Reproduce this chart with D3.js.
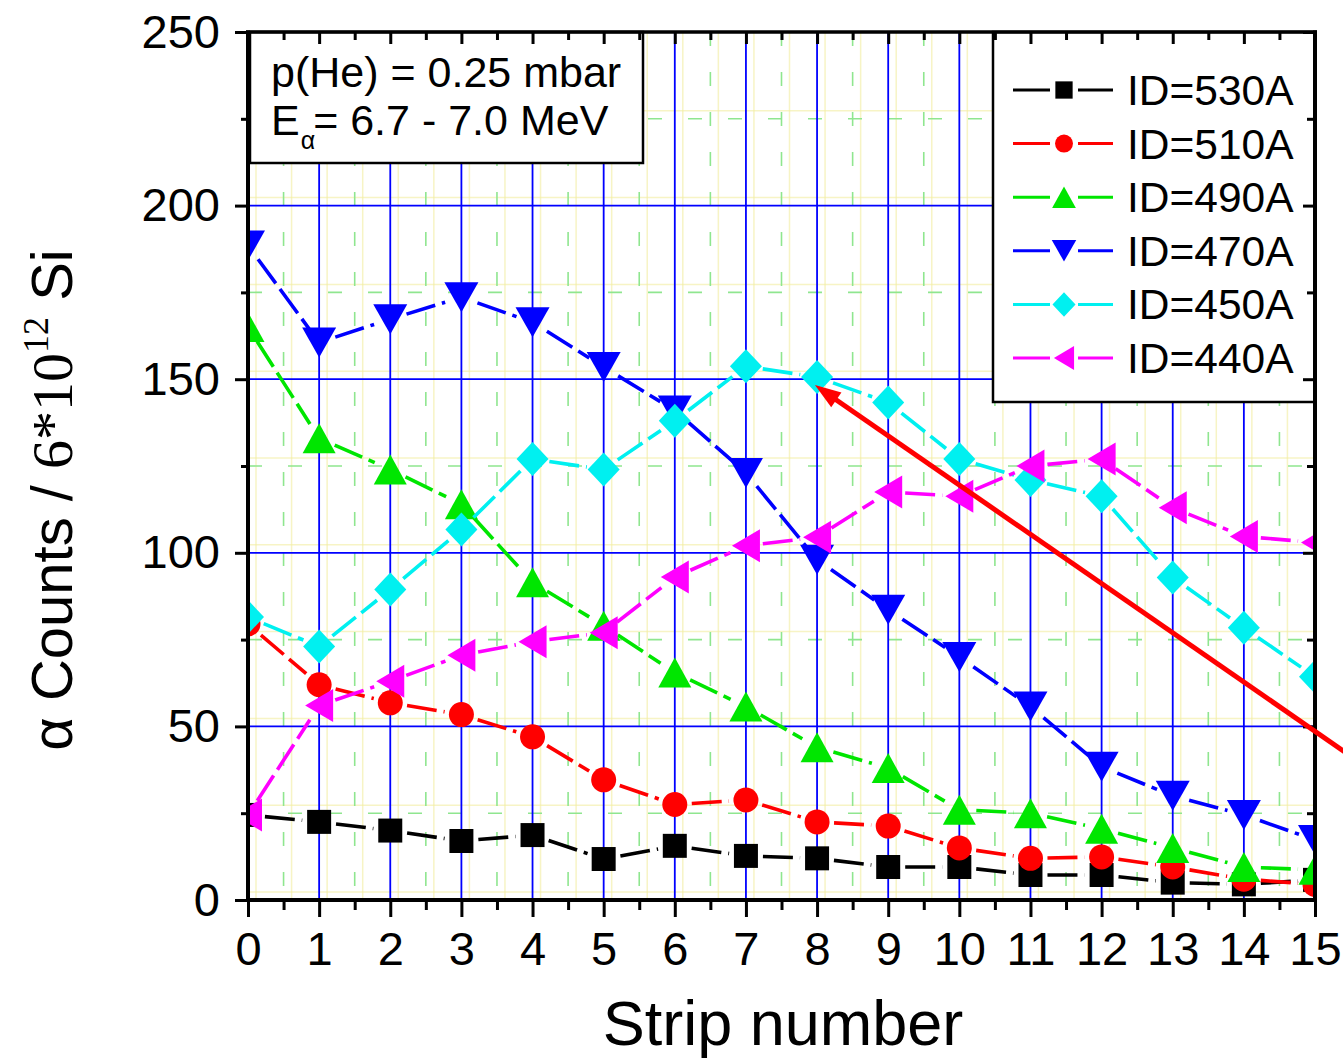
<!DOCTYPE html>
<html><head><meta charset="utf-8">
<script src="https://cdn.jsdelivr.net/npm/d3@7"></script>
<style>body{margin:0;background:#fff}svg{display:block}</style>
</head><body>
<svg id="chart" width="1343" height="1061"></svg>
<script>
// ---------- data ----------
const strips = [0,1,2,3,4,5,6,7,8,9,10,11,12,13,14,15];
const xTickValues = [0,1,2,3,4,5,6,7,8,9,10,11,12,13,14,15];
const xMinorValues = [0.5,1.5,2.5,3.5,4.5,5.5,6.5,7.5,8.5,9.5,10.5,11.5,12.5,13.5,14.5];
const yTickValues = [0,50,100,150,200,250];
const yMinorValues = [25,75,125,175,225];

const id530 = [24.5,22.5,20,17,18.7,11.8,15.6,12.7,12,9.5,9.5,7.2,7.2,5,4.5,5.8];
const id510 = [79.5,62,56.8,53.4,47,34.6,27.5,28.8,22.5,21.3,15,12,12.4,9.5,6,4.5];
const id490 = [165,133,124,114,91.5,79,65.5,55.7,44,38,26,25,20.5,15,9.5,8.7];
const id470 = [188.5,160.6,167.3,173.6,166.4,153.5,141,123,98,83.6,70,55.7,38.4,30,24.5,17.3];
const id450 = [81.5,73,89.4,106.7,127,124,138,153.7,150.6,143.3,127,121,116.3,92.9,78.4,64.3];
const id440 = [24.5,56,63,70.5,74.4,77,93,102,104.5,117.5,116.3,125,127,113,104.7,103];

const seriesNames = ["ID=530A","ID=510A","ID=490A","ID=470A","ID=450A","ID=440A"];
const seriesValues = [id530,id510,id490,id470,id450,id440];
const seriesColors = ["#000000","#ff0000","#00e600","#0000ff","#00f0f0","#ff00ff"];
const seriesSymbols = ["square","circle","triUp","triDown","diamond","triLeft"];

const annotationLine1 = "p(He) = 0.25 mbar";
const annotationLine2a = "E";
const annotationLine2sub = "α";
const annotationLine2b = "= 6.7 - 7.0 MeV";
const xTitle = "Strip number";
const arrowFrom = [15.5, 41.5];
const arrowTo = [7.97, 148.3];

// ---------- layout ----------
const W = 1343, H = 1061;
const L = 248, R = 1315, T = 32, B = 900;
const svg = d3.select("#chart");
const x = d3.scaleLinear().domain([0,15]).range([L,R]);
const y = d3.scaleLinear().domain([0,250]).range([B,T]);
const SANS = "'Liberation Sans', Arial, sans-serif";
const SERIF = "'Liberation Serif', 'Times New Roman', serif";

svg.append("rect").attr("width",W).attr("height",H).attr("fill","#fff");

svg.append("defs").append("clipPath").attr("id","plotclip")
  .append("rect").attr("x",L).attr("y",T).attr("width",R-L).attr("height",B-T);

const grid = svg.append("g").attr("clip-path","url(#plotclip)");

// faint yellow shadow lines
const allX = xTickValues.concat(xMinorValues);
const allY = yTickValues.concat(yMinorValues);
grid.selectAll("line.yx").data(allX).join("line")
  .attr("x1",d=>x(d)+8).attr("x2",d=>x(d)+8).attr("y1",T).attr("y2",B)
  .attr("stroke","#f3eea0").attr("stroke-width",1.5).attr("opacity",0.6);
grid.selectAll("line.yy").data(allY).join("line")
  .attr("y1",d=>y(d)-8).attr("y2",d=>y(d)-8).attr("x1",L).attr("x2",R)
  .attr("stroke","#f3eea0").attr("stroke-width",1.5).attr("opacity",0.6);

// minor green dashed grid
grid.selectAll("line.gx").data(xMinorValues).join("line")
  .attr("x1",d=>x(d)).attr("x2",d=>x(d)).attr("y1",T).attr("y2",B)
  .attr("stroke","#8fe68f").attr("stroke-width",1.6).attr("stroke-dasharray","14,26");
grid.selectAll("line.gy").data(yMinorValues).join("line")
  .attr("y1",d=>y(d)).attr("y2",d=>y(d)).attr("x1",L).attr("x2",R)
  .attr("stroke","#8fe68f").attr("stroke-width",1.6).attr("stroke-dasharray","14,26");

// major blue grid
grid.selectAll("line.bx").data(xTickValues.slice(1,-1)).join("line")
  .attr("x1",d=>x(d)).attr("x2",d=>x(d)).attr("y1",T).attr("y2",B)
  .attr("stroke","#0000ff").attr("stroke-width",1.8);
grid.selectAll("line.by").data(yTickValues.slice(1,-1)).join("line")
  .attr("y1",d=>y(d)).attr("y2",d=>y(d)).attr("x1",L).attr("x2",R)
  .attr("stroke","#0000ff").attr("stroke-width",1.8);

// ---------- boxes ----------
const annoBox = {x0:L+2, y0:T, x1:643, y1:163};
svg.append("rect").attr("x",annoBox.x0).attr("y",annoBox.y0)
  .attr("width",annoBox.x1-annoBox.x0).attr("height",annoBox.y1-annoBox.y0)
  .attr("fill","#fff").attr("stroke","#000").attr("stroke-width",2.5);
svg.append("text").attr("x",271).attr("y",87)
  .attr("font-family",SANS).attr("font-size",43).attr("fill","#000").text(annotationLine1);
const a2 = svg.append("text").attr("x",271).attr("y",135)
  .attr("font-family",SANS).attr("font-size",43).attr("fill","#000");
a2.append("tspan").text(annotationLine2a);
a2.append("tspan").attr("font-size",25).attr("dy",14).attr("dx",1).text(annotationLine2sub);
a2.append("tspan").attr("dy",-14).attr("dx",-2).text(annotationLine2b);

const legBox = {x0:993, y0:T, x1:R, y1:402};
svg.append("rect").attr("x",legBox.x0).attr("y",legBox.y0)
  .attr("width",legBox.x1-legBox.x0).attr("height",legBox.y1-legBox.y0)
  .attr("fill","#fff").attr("stroke","#000").attr("stroke-width",2.5);

// ---------- symbols ----------
function symbolPath(type, cx, cy, s){
  let w,h;
  switch(type){
    case "square": { const a=12*s; return `M${cx-a},${cy-a}H${cx+a}V${cy+a}H${cx-a}Z`; }
    case "circle": { const r=12.5*s; return `M${cx-r},${cy}A${r},${r} 0 1,0 ${cx+r},${cy}A${r},${r} 0 1,0 ${cx-r},${cy}Z`; }
    case "triUp": w=16.5*s; h=15*s; return `M${cx},${cy-h}L${cx+w},${cy+h}L${cx-w},${cy+h}Z`;
    case "triDown": w=17*s; h=15*s; return `M${cx-w},${cy-h}L${cx+w},${cy-h}L${cx},${cy+h}Z`;
    case "diamond": w=16*s; h=17*s; return `M${cx},${cy-h}L${cx+w},${cy}L${cx},${cy+h}L${cx-w},${cy}Z`;
    case "triLeft": w=14*s; h=16.5*s; return `M${cx-w},${cy}L${cx+w},${cy-h}L${cx+w},${cy+h}Z`;
  }
}

// ---------- data series ----------
const dataG = svg.append("g").attr("clip-path","url(#plotclip)");
const GAP = 17;
seriesValues.forEach((vals, si) => {
  const g = dataG.append("g");
  const pts = strips.map((s,i)=>[x(s), y(vals[i])]);
  const segs = [];
  for (let i=0;i<pts.length-1;i++){
    const [ax,ay]=pts[i],[bx,by]=pts[i+1];
    const dx=bx-ax, dy=by-ay, len=Math.hypot(dx,dy);
    if (len>2*GAP+2){
      const ux=dx/len, uy=dy/len;
      segs.push([ax+ux*GAP, ay+uy*GAP, bx-ux*GAP, by-uy*GAP]);
    }
  }
  g.selectAll("line").data(segs).join("line")
    .attr("x1",d=>d[0]).attr("y1",d=>d[1]).attr("x2",d=>d[2]).attr("y2",d=>d[3])
    .attr("stroke",seriesColors[si]).attr("stroke-width",3.6)
    .attr("stroke-dasharray","30,7");
  g.selectAll("path").data(strips).join("path")
    .attr("d",(s,i)=>symbolPath(seriesSymbols[si], x(s), y(vals[i]), 1))
    .attr("fill",seriesColors[si]);
});

// ---------- legend entries ----------
const legStartY = 90, legStep = 53.6;
seriesNames.forEach((name, si) => {
  const cy = legStartY + si*legStep;
  const g = svg.append("g");
  g.append("line").attr("x1",1013).attr("x2",1050).attr("y1",cy).attr("y2",cy)
    .attr("stroke",seriesColors[si]).attr("stroke-width",3);
  g.append("line").attr("x1",1078).attr("x2",1113).attr("y1",cy).attr("y2",cy)
    .attr("stroke",seriesColors[si]).attr("stroke-width",3);
  g.append("path").attr("d",symbolPath(seriesSymbols[si],1064,cy,0.72)).attr("fill",seriesColors[si]);
  g.append("text").attr("x",1127).attr("y",cy+15)
    .attr("font-family",SANS).attr("font-size",42.5).attr("fill","#000").text(name);
});

// ---------- axes ----------
function styleAxis(g, fontSize, width){
  g.select(".domain").remove();
  g.selectAll(".tick line").attr("stroke","#000").attr("stroke-width",width);
  g.selectAll(".tick text").attr("font-family",SANS).attr("font-size",fontSize).attr("fill","#000");
}
const xb = svg.append("g").attr("transform",`translate(0,${B})`)
  .call(d3.axisBottom(x).tickValues(xTickValues).tickSize(17).tickPadding(15).tickFormat(d3.format("d")));
styleAxis(xb, 47, 3);
const xbm = svg.append("g").attr("transform",`translate(0,${B})`)
  .call(d3.axisBottom(x).tickValues(xMinorValues).tickSize(10).tickFormat(""));
styleAxis(xbm, 10, 3);
const yl = svg.append("g").attr("transform",`translate(${L},0)`)
  .call(d3.axisLeft(y).tickValues(yTickValues).tickSize(13).tickPadding(15).tickFormat(d3.format("d")));
styleAxis(yl, 47, 3);
const ylm = svg.append("g").attr("transform",`translate(${L},0)`)
  .call(d3.axisLeft(y).tickValues(yMinorValues).tickSize(7).tickFormat(""));
styleAxis(ylm, 10, 3);
const yr = svg.append("g").attr("transform",`translate(${R},0)`)
  .call(d3.axisRight(y).tickValues(yTickValues).tickSize(-12).tickFormat(""));
styleAxis(yr, 10, 3);
const yrm = svg.append("g").attr("transform",`translate(${R},0)`)
  .call(d3.axisRight(y).tickValues(yMinorValues).tickSize(-8).tickFormat(""));
styleAxis(yrm, 10, 3);
const xt = svg.append("g").attr("transform",`translate(0,${T})`)
  .call(d3.axisTop(x).tickValues(xTickValues).tickSize(-12).tickFormat(""));
styleAxis(xt, 10, 3);
const xtm = svg.append("g").attr("transform",`translate(0,${T})`)
  .call(d3.axisTop(x).tickValues(xMinorValues).tickSize(-8).tickFormat(""));
styleAxis(xtm, 10, 3);

// frame
svg.append("line").attr("x1",L).attr("x2",L).attr("y1",T-1.5).attr("y2",B+2).attr("stroke","#000").attr("stroke-width",4);
svg.append("line").attr("x1",L-2).attr("x2",R+2).attr("y1",B).attr("y2",B).attr("stroke","#000").attr("stroke-width",4);
svg.append("line").attr("x1",L-2).attr("x2",R+2).attr("y1",T).attr("y2",T).attr("stroke","#000").attr("stroke-width",3.5);
svg.append("line").attr("x1",R).attr("x2",R).attr("y1",T-1.5).attr("y2",B+2).attr("stroke","#000").attr("stroke-width",4);

// ---------- arrow ----------
(function(){
  const x0=x(arrowFrom[0]), y0=y(arrowFrom[1]), x1=x(arrowTo[0]), y1=y(arrowTo[1]);
  const dx=x1-x0, dy=y1-y0, len=Math.hypot(dx,dy), ux=dx/len, uy=dy/len;
  const hl=26, hw=9;
  const bx=x1-ux*hl, by=y1-uy*hl;
  svg.append("line").attr("x1",x0).attr("y1",y0).attr("x2",bx+ux*3).attr("y2",by+uy*3)
    .attr("stroke","#ff0000").attr("stroke-width",5);
  svg.append("path").attr("d",`M${x1},${y1}L${bx-uy*hw},${by+ux*hw}L${bx+uy*hw},${by-ux*hw}Z`)
    .attr("fill","#ff0000");
})();

// ---------- titles ----------
svg.append("text").attr("x",783).attr("y",1045).attr("text-anchor","middle")
  .attr("font-family",SANS).attr("font-size",63).attr("fill","#000").text(xTitle);

const yt = svg.append("text").attr("transform","translate(72,500) rotate(-90)")
  .attr("text-anchor","middle").attr("font-family",SANS).attr("font-size",58).attr("fill","#000");
yt.append("tspan").text("α Counts / ");
yt.append("tspan").attr("font-family",SERIF).text("6*10");
yt.append("tspan").attr("font-family",SERIF).attr("font-size",36).attr("dy",-24).text("12");
yt.append("tspan").attr("dy",24).text(" Si");
</script>
</body></html>
